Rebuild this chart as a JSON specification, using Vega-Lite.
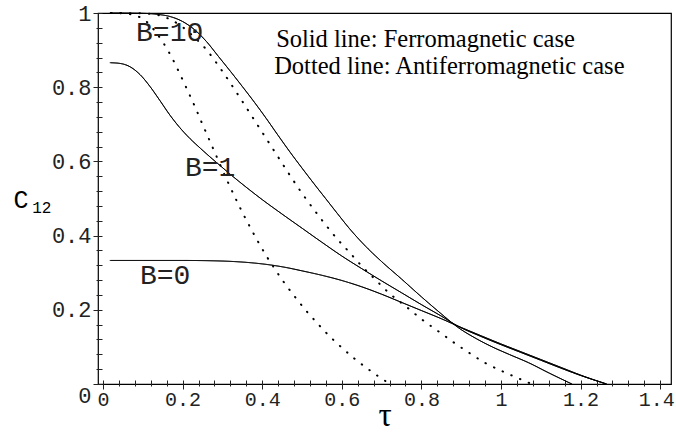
{
  "$schema": "https://vega.github.io/schema/vega-lite/v6.json",
  "width": 573,
  "height": 371,
  "autosize": "none",
  "padding": {"left": 98, "top": 13, "right": 5, "bottom": 52},
  "background": "white",
  "config": {
    "view": {"stroke": "#000", "strokeWidth": 1.2},
    "axis": {"grid": false, "domain": false, "tickColor": "#222", "tickWidth": 1, "labelColor": "#222", "labelFont": "Liberation Mono", "labelOverlap": false, "labelFlush": false, "labelBound": false, "titleColor": "#000", "titleFontWeight": "normal"}
  },
  "datasets": {
    "curves": [
      {"case": "Ferromagnetic", "B": 10, "x": 0.018, "y": 1.0},
      {"case": "Ferromagnetic", "B": 10, "x": 0.10, "y": 0.999},
      {"case": "Ferromagnetic", "B": 10, "x": 0.14, "y": 0.996},
      {"case": "Ferromagnetic", "B": 10, "x": 0.17, "y": 0.990},
      {"case": "Ferromagnetic", "B": 10, "x": 0.20, "y": 0.977},
      {"case": "Ferromagnetic", "B": 10, "x": 0.23, "y": 0.955},
      {"case": "Ferromagnetic", "B": 10, "x": 0.26, "y": 0.923},
      {"case": "Ferromagnetic", "B": 10, "x": 0.29, "y": 0.883},
      {"case": "Ferromagnetic", "B": 10, "x": 0.32, "y": 0.843},
      {"case": "Ferromagnetic", "B": 10, "x": 0.35, "y": 0.802},
      {"case": "Ferromagnetic", "B": 10, "x": 0.38, "y": 0.760},
      {"case": "Ferromagnetic", "B": 10, "x": 0.41, "y": 0.716},
      {"case": "Ferromagnetic", "B": 10, "x": 0.44, "y": 0.670},
      {"case": "Ferromagnetic", "B": 10, "x": 0.47, "y": 0.625},
      {"case": "Ferromagnetic", "B": 10, "x": 0.50, "y": 0.582},
      {"case": "Ferromagnetic", "B": 10, "x": 0.53, "y": 0.540},
      {"case": "Ferromagnetic", "B": 10, "x": 0.56, "y": 0.499},
      {"case": "Ferromagnetic", "B": 10, "x": 0.59, "y": 0.458},
      {"case": "Ferromagnetic", "B": 10, "x": 0.62, "y": 0.418},
      {"case": "Ferromagnetic", "B": 10, "x": 0.66, "y": 0.371},
      {"case": "Ferromagnetic", "B": 10, "x": 0.70, "y": 0.330},
      {"case": "Ferromagnetic", "B": 10, "x": 0.75, "y": 0.283},
      {"case": "Ferromagnetic", "B": 10, "x": 0.80, "y": 0.235},
      {"case": "Ferromagnetic", "B": 10, "x": 0.85, "y": 0.189},
      {"case": "Ferromagnetic", "B": 10, "x": 0.89, "y": 0.154},
      {"case": "Ferromagnetic", "B": 10, "x": 0.94, "y": 0.121},
      {"case": "Ferromagnetic", "B": 10, "x": 0.98, "y": 0.099},
      {"case": "Ferromagnetic", "B": 10, "x": 1.02, "y": 0.080},
      {"case": "Ferromagnetic", "B": 10, "x": 1.07, "y": 0.057},
      {"case": "Ferromagnetic", "B": 10, "x": 1.12, "y": 0.030},
      {"case": "Ferromagnetic", "B": 10, "x": 1.178, "y": 0.0},
      {"case": "Ferromagnetic", "B": 1, "x": 0.018, "y": 0.866},
      {"case": "Ferromagnetic", "B": 1, "x": 0.043, "y": 0.864},
      {"case": "Ferromagnetic", "B": 1, "x": 0.068, "y": 0.855},
      {"case": "Ferromagnetic", "B": 1, "x": 0.093, "y": 0.834},
      {"case": "Ferromagnetic", "B": 1, "x": 0.118, "y": 0.802},
      {"case": "Ferromagnetic", "B": 1, "x": 0.143, "y": 0.764},
      {"case": "Ferromagnetic", "B": 1, "x": 0.168, "y": 0.725},
      {"case": "Ferromagnetic", "B": 1, "x": 0.193, "y": 0.691},
      {"case": "Ferromagnetic", "B": 1, "x": 0.219, "y": 0.661},
      {"case": "Ferromagnetic", "B": 1, "x": 0.244, "y": 0.636},
      {"case": "Ferromagnetic", "B": 1, "x": 0.269, "y": 0.612},
      {"case": "Ferromagnetic", "B": 1, "x": 0.294, "y": 0.589},
      {"case": "Ferromagnetic", "B": 1, "x": 0.319, "y": 0.566},
      {"case": "Ferromagnetic", "B": 1, "x": 0.344, "y": 0.544},
      {"case": "Ferromagnetic", "B": 1, "x": 0.40, "y": 0.497},
      {"case": "Ferromagnetic", "B": 1, "x": 0.45, "y": 0.458},
      {"case": "Ferromagnetic", "B": 1, "x": 0.50, "y": 0.420},
      {"case": "Ferromagnetic", "B": 1, "x": 0.55, "y": 0.382},
      {"case": "Ferromagnetic", "B": 1, "x": 0.60, "y": 0.345},
      {"case": "Ferromagnetic", "B": 1, "x": 0.65, "y": 0.311},
      {"case": "Ferromagnetic", "B": 1, "x": 0.70, "y": 0.278},
      {"case": "Ferromagnetic", "B": 1, "x": 0.75, "y": 0.246},
      {"case": "Ferromagnetic", "B": 1, "x": 0.80, "y": 0.214},
      {"case": "Ferromagnetic", "B": 1, "x": 0.85, "y": 0.183},
      {"case": "Ferromagnetic", "B": 1, "x": 0.89, "y": 0.157},
      {"case": "Ferromagnetic", "B": 1, "x": 0.95, "y": 0.128},
      {"case": "Ferromagnetic", "B": 1, "x": 1.00, "y": 0.106},
      {"case": "Ferromagnetic", "B": 1, "x": 1.05, "y": 0.085},
      {"case": "Ferromagnetic", "B": 1, "x": 1.10, "y": 0.064},
      {"case": "Ferromagnetic", "B": 1, "x": 1.15, "y": 0.043},
      {"case": "Ferromagnetic", "B": 1, "x": 1.20, "y": 0.023},
      {"case": "Ferromagnetic", "B": 1, "x": 1.265, "y": 0.0},
      {"case": "Ferromagnetic", "B": 0, "x": 0.018, "y": 0.333},
      {"case": "Ferromagnetic", "B": 0, "x": 0.10, "y": 0.333},
      {"case": "Ferromagnetic", "B": 0, "x": 0.20, "y": 0.333},
      {"case": "Ferromagnetic", "B": 0, "x": 0.28, "y": 0.332},
      {"case": "Ferromagnetic", "B": 0, "x": 0.33, "y": 0.330},
      {"case": "Ferromagnetic", "B": 0, "x": 0.38, "y": 0.326},
      {"case": "Ferromagnetic", "B": 0, "x": 0.42, "y": 0.321},
      {"case": "Ferromagnetic", "B": 0, "x": 0.46, "y": 0.314},
      {"case": "Ferromagnetic", "B": 0, "x": 0.50, "y": 0.305},
      {"case": "Ferromagnetic", "B": 0, "x": 0.55, "y": 0.293},
      {"case": "Ferromagnetic", "B": 0, "x": 0.60, "y": 0.279},
      {"case": "Ferromagnetic", "B": 0, "x": 0.65, "y": 0.262},
      {"case": "Ferromagnetic", "B": 0, "x": 0.70, "y": 0.242},
      {"case": "Ferromagnetic", "B": 0, "x": 0.75, "y": 0.220},
      {"case": "Ferromagnetic", "B": 0, "x": 0.80, "y": 0.198},
      {"case": "Ferromagnetic", "B": 0, "x": 0.85, "y": 0.176},
      {"case": "Ferromagnetic", "B": 0, "x": 0.89, "y": 0.157},
      {"case": "Ferromagnetic", "B": 0, "x": 0.95, "y": 0.130},
      {"case": "Ferromagnetic", "B": 0, "x": 1.00, "y": 0.108},
      {"case": "Ferromagnetic", "B": 0, "x": 1.05, "y": 0.087},
      {"case": "Ferromagnetic", "B": 0, "x": 1.10, "y": 0.066},
      {"case": "Ferromagnetic", "B": 0, "x": 1.15, "y": 0.045},
      {"case": "Ferromagnetic", "B": 0, "x": 1.20, "y": 0.024},
      {"case": "Ferromagnetic", "B": 0, "x": 1.265, "y": 0.0},
      {"case": "Antiferromagnetic", "B": 1, "x": 0.02, "y": 1.0},
      {"case": "Antiferromagnetic", "B": 1, "x": 0.06, "y": 0.998},
      {"case": "Antiferromagnetic", "B": 1, "x": 0.09, "y": 0.99},
      {"case": "Antiferromagnetic", "B": 1, "x": 0.11, "y": 0.976},
      {"case": "Antiferromagnetic", "B": 1, "x": 0.13, "y": 0.952},
      {"case": "Antiferromagnetic", "B": 1, "x": 0.15, "y": 0.922},
      {"case": "Antiferromagnetic", "B": 1, "x": 0.17, "y": 0.886},
      {"case": "Antiferromagnetic", "B": 1, "x": 0.19, "y": 0.843},
      {"case": "Antiferromagnetic", "B": 1, "x": 0.21, "y": 0.797},
      {"case": "Antiferromagnetic", "B": 1, "x": 0.23, "y": 0.750},
      {"case": "Antiferromagnetic", "B": 1, "x": 0.25, "y": 0.700},
      {"case": "Antiferromagnetic", "B": 1, "x": 0.27, "y": 0.651},
      {"case": "Antiferromagnetic", "B": 1, "x": 0.29, "y": 0.602},
      {"case": "Antiferromagnetic", "B": 1, "x": 0.31, "y": 0.553},
      {"case": "Antiferromagnetic", "B": 1, "x": 0.33, "y": 0.507},
      {"case": "Antiferromagnetic", "B": 1, "x": 0.35, "y": 0.463},
      {"case": "Antiferromagnetic", "B": 1, "x": 0.37, "y": 0.422},
      {"case": "Antiferromagnetic", "B": 1, "x": 0.39, "y": 0.383},
      {"case": "Antiferromagnetic", "B": 1, "x": 0.41, "y": 0.346},
      {"case": "Antiferromagnetic", "B": 1, "x": 0.43, "y": 0.313},
      {"case": "Antiferromagnetic", "B": 1, "x": 0.45, "y": 0.281},
      {"case": "Antiferromagnetic", "B": 1, "x": 0.48, "y": 0.238},
      {"case": "Antiferromagnetic", "B": 1, "x": 0.51, "y": 0.198},
      {"case": "Antiferromagnetic", "B": 1, "x": 0.54, "y": 0.162},
      {"case": "Antiferromagnetic", "B": 1, "x": 0.57, "y": 0.128},
      {"case": "Antiferromagnetic", "B": 1, "x": 0.60, "y": 0.098},
      {"case": "Antiferromagnetic", "B": 1, "x": 0.63, "y": 0.070},
      {"case": "Antiferromagnetic", "B": 1, "x": 0.66, "y": 0.045},
      {"case": "Antiferromagnetic", "B": 1, "x": 0.69, "y": 0.022},
      {"case": "Antiferromagnetic", "B": 1, "x": 0.721, "y": 0.0},
      {"case": "Antiferromagnetic", "B": 0, "x": 0.02, "y": 1.0},
      {"case": "Antiferromagnetic", "B": 0, "x": 0.10, "y": 0.999},
      {"case": "Antiferromagnetic", "B": 0, "x": 0.14, "y": 0.994},
      {"case": "Antiferromagnetic", "B": 0, "x": 0.17, "y": 0.982},
      {"case": "Antiferromagnetic", "B": 0, "x": 0.20, "y": 0.962},
      {"case": "Antiferromagnetic", "B": 0, "x": 0.23, "y": 0.934},
      {"case": "Antiferromagnetic", "B": 0, "x": 0.26, "y": 0.901},
      {"case": "Antiferromagnetic", "B": 0, "x": 0.29, "y": 0.858},
      {"case": "Antiferromagnetic", "B": 0, "x": 0.32, "y": 0.811},
      {"case": "Antiferromagnetic", "B": 0, "x": 0.35, "y": 0.762},
      {"case": "Antiferromagnetic", "B": 0, "x": 0.38, "y": 0.712},
      {"case": "Antiferromagnetic", "B": 0, "x": 0.41, "y": 0.662},
      {"case": "Antiferromagnetic", "B": 0, "x": 0.44, "y": 0.612},
      {"case": "Antiferromagnetic", "B": 0, "x": 0.47, "y": 0.562},
      {"case": "Antiferromagnetic", "B": 0, "x": 0.50, "y": 0.514},
      {"case": "Antiferromagnetic", "B": 0, "x": 0.53, "y": 0.470},
      {"case": "Antiferromagnetic", "B": 0, "x": 0.56, "y": 0.428},
      {"case": "Antiferromagnetic", "B": 0, "x": 0.59, "y": 0.389},
      {"case": "Antiferromagnetic", "B": 0, "x": 0.62, "y": 0.354},
      {"case": "Antiferromagnetic", "B": 0, "x": 0.65, "y": 0.318},
      {"case": "Antiferromagnetic", "B": 0, "x": 0.68, "y": 0.286},
      {"case": "Antiferromagnetic", "B": 0, "x": 0.72, "y": 0.244},
      {"case": "Antiferromagnetic", "B": 0, "x": 0.76, "y": 0.210},
      {"case": "Antiferromagnetic", "B": 0, "x": 0.80, "y": 0.175},
      {"case": "Antiferromagnetic", "B": 0, "x": 0.84, "y": 0.144},
      {"case": "Antiferromagnetic", "B": 0, "x": 0.88, "y": 0.113},
      {"case": "Antiferromagnetic", "B": 0, "x": 0.92, "y": 0.084},
      {"case": "Antiferromagnetic", "B": 0, "x": 0.96, "y": 0.057},
      {"case": "Antiferromagnetic", "B": 0, "x": 1.00, "y": 0.036},
      {"case": "Antiferromagnetic", "B": 0, "x": 1.04, "y": 0.017},
      {"case": "Antiferromagnetic", "B": 0, "x": 1.077, "y": 0.0}
    ]
  },
  "layer": [
    {
      "data": {"name": "curves"},
      "mark": {"type": "line", "interpolate": "monotone", "strokeCap": "round", "color": "#000"},
      "encoding": {
        "x": {
          "field": "x", "type": "quantitative",
          "scale": {"domain": [-0.01256, 1.4271], "nice": false, "zero": false},
          "axis": {
            "orient": "bottom", "offset": -4, "tickCount": 200, "labelOverlap": false, "labelBound": false, "labelFlush": false,
            "values": [0,0.04,0.08,0.12,0.16,0.2,0.24,0.28,0.32,0.36,0.4,0.44,0.48,0.52,0.56,0.6,0.64,0.68,0.72,0.76,0.8,0.84,0.88,0.92,0.96,1,1.04,1.08,1.12,1.16,1.2,1.24,1.28,1.32,1.36,1.4],
            "tickSize": {"condition": {"test": "datum.value == 0 || datum.value == 0.2 || datum.value == 0.4 || datum.value == 0.6 || datum.value == 0.8 || datum.value == 1 || datum.value == 1.2 || datum.value == 1.4", "value": 9}, "value": 6},
            "labelExpr": "(datum.value == 0 || datum.value == 0.2 || datum.value == 0.4 || datum.value == 0.6 || datum.value == 0.8 || datum.value == 1 || datum.value == 1.2 || datum.value == 1.4) ? format(datum.value, '~g') : ''",
            "labelOffset": {"condition": {"test": "datum.value == 1.4", "value": -4}, "value": 0},
            "labelFontSize": 20, "labelPadding": 0,
            "title": "τ", "titleFont": "Liberation Serif", "titleFontSize": 33,
            "titleBaseline": "alphabetic", "titleY": 45
          }
        },
        "y": {
          "field": "y", "type": "quantitative",
          "scale": {"domain": [0, 1], "nice": false},
          "axis": {
            "orient": "left", "offset": -4, "tickCount": 200, "labelOverlap": false, "labelBound": false, "labelFlush": false,
            "values": [0,0.04,0.08,0.12,0.16,0.2,0.24,0.28,0.32,0.36,0.4,0.44,0.48,0.52,0.56,0.6,0.64,0.68,0.72,0.76,0.8,0.84,0.88,0.92,0.96,1],
            "tickSize": {"condition": {"test": "datum.value == 0 || datum.value == 0.2 || datum.value == 0.4 || datum.value == 0.6 || datum.value == 0.8 || datum.value == 1", "value": 9}, "value": 6},
            "labelExpr": "(datum.value == 0 || datum.value == 0.2 || datum.value == 0.4 || datum.value == 0.6 || datum.value == 0.8 || datum.value == 1) ? format(datum.value, '~g') : ''",
            "labelOffset": {"condition": {"test": "datum.value == 0", "value": 11}, "value": 0},
            "labelFontSize": 22, "labelPadding": 2,
            "title": "C", "titleFont": "Liberation Mono", "titleFontSize": 25,
            "titleAngle": 0, "titleAlign": "left", "titleBaseline": "alphabetic",
            "titleX": -89, "titleY": 194
          }
        },
        "detail": [{"field": "case"}, {"field": "B"}],
        "strokeDash": {"field": "case", "type": "nominal", "scale": {"domain": ["Ferromagnetic", "Antiferromagnetic"], "range": [[1, 0], [0.5, 9]]}, "legend": null},
        "strokeWidth": {"field": "case", "type": "nominal", "scale": {"domain": ["Ferromagnetic", "Antiferromagnetic"], "range": [1, 2]}, "legend": null}
      }
    },
    {
      "data": {"values": [{}]},
      "mark": {"type": "text", "text": "12", "align": "left", "baseline": "alphabetic", "font": "Liberation Mono", "fontSize": 16, "color": "#000"},
      "encoding": {"x": {"datum": -0.178, "type": "quantitative"}, "y": {"datum": 0.461, "type": "quantitative"}}
    },
    {
      "data": {"values": [{}]},
      "mark": {"type": "text", "text": "Solid line: Ferromagnetic case", "align": "left", "baseline": "alphabetic", "font": "Liberation Serif", "fontSize": 24.5, "color": "#000"},
      "encoding": {"x": {"datum": 0.435, "type": "quantitative"}, "y": {"datum": 0.908, "type": "quantitative"}}
    },
    {
      "data": {"values": [{}]},
      "mark": {"type": "text", "text": "Dotted line: Antiferromagnetic case", "align": "left", "baseline": "alphabetic", "font": "Liberation Serif", "fontSize": 24.5, "color": "#000"},
      "encoding": {"x": {"datum": 0.430, "type": "quantitative"}, "y": {"datum": 0.835, "type": "quantitative"}}
    },
    {
      "data": {"values": [{}]},
      "mark": {"type": "text", "text": "B=10", "align": "left", "baseline": "alphabetic", "font": "Liberation Mono", "fontSize": 28, "color": "#222"},
      "encoding": {"x": {"datum": 0.083, "type": "quantitative"}, "y": {"datum": 0.925, "type": "quantitative"}}
    },
    {
      "data": {"values": [{}]},
      "mark": {"type": "text", "text": "B=1", "align": "left", "baseline": "alphabetic", "font": "Liberation Mono", "fontSize": 28, "color": "#222"},
      "encoding": {"x": {"datum": 0.206, "type": "quantitative"}, "y": {"datum": 0.561, "type": "quantitative"}}
    },
    {
      "data": {"values": [{}]},
      "mark": {"type": "text", "text": "B=0", "align": "left", "baseline": "alphabetic", "font": "Liberation Mono", "fontSize": 28, "color": "#222"},
      "encoding": {"x": {"datum": 0.093, "type": "quantitative"}, "y": {"datum": 0.270, "type": "quantitative"}}
    }
  ]
}
